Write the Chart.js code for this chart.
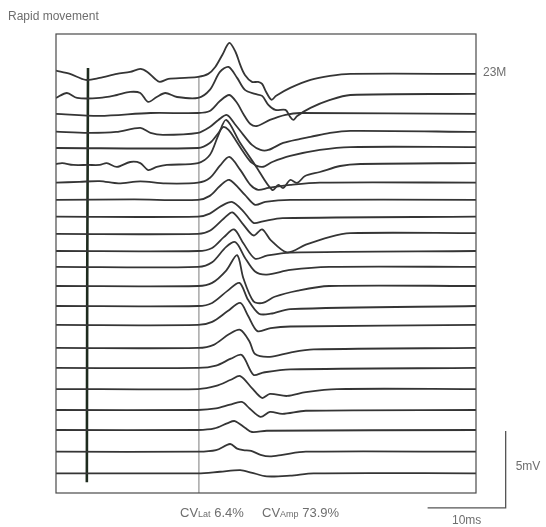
<!DOCTYPE html>
<html>
<head>
<meta charset="utf-8">
<script src="https://cdn.jsdelivr.net/npm/chart.js@4/dist/chart.umd.min.js"></script>
<style>
  html, body { margin: 0; padding: 0; background: #fff; }
  canvas { display: block; }
</style>
</head>
<body>
<canvas id="sweeps" width="546" height="527"></canvas>
<script>
// time axis in ms, amplitude in mV
const timeRange = [0, 53.8];
const mvRange = [0, 29.8];

// stacking level of each sweep (mV)
const offsets = [27.42, 25.65, 24.61, 23.46, 22.40, 21.36, 20.15, 19.03, 17.94, 16.82, 15.71,
                 14.68, 13.44, 12.14, 10.91, 9.42, 8.12, 6.75, 5.39, 4.09, 2.68, 1.28];

// each sweep: [ms, mV relative to its level]
const sweep1 = [[0,0],[1.8,-0.21],[3.8,-0.6],[5.6,-0.47],[7.8,-0.21],[9.5,-0.08],[10.8,0.11],[11.7,-0.08],[12.7,-0.54],[13.3,-0.73],[14.4,-0.54],[16.5,-0.47],[18.2,-0.41],[19.5,-0.21],[20.4,0.24],[21.3,1.02],[22.2,1.8],[23.0,1.21],[23.6,0.37],[24.2,-0.28],[25.1,-0.73],[25.9,-0.73],[26.4,-0.86],[26.9,-1.37],[27.6,-1.89],[28.2,-1.63],[30.0,-1.12],[32.6,-0.6],[35.1,-0.34],[37.7,-0.21],[53.8,-0.21]];
const sweep2 = [[0,0],[1.4,0.32],[2.7,0],[5.6,0],[7.8,0.19],[9.5,0.39],[10.8,0.32],[11.8,-0.26],[12.9,0.06],[14.0,0.32],[15.5,0.06],[18.2,0],[19.7,0.52],[21.0,1.69],[22.1,2.01],[23.2,1.3],[24.2,0.52],[25.5,0.26],[26.4,0.13],[27.2,-0.45],[28.1,-0.78],[29.4,-0.78],[30.0,-1.23],[30.4,-1.43],[30.9,-1.17],[32.6,-0.65],[35.1,-0.13],[37.7,0.19],[53.8,0.26]];
const sweep3 = [[0,0],[5.6,-0.13],[12.1,0.06],[18.2,0.06],[19.7,0.19],[21.0,0.84],[22.2,1.23],[23.2,0.71],[24.0,0],[24.9,-0.65],[25.8,-0.78],[27.4,-0.39],[29.4,-0.06],[31.3,0.06],[53.8,0]];
const sweep4 = [[0,0],[4.1,-0.08],[7.7,-0.02],[10.8,0.24],[12.1,-0.08],[13.7,-0.21],[18.2,-0.08],[19.7,0.3],[20.8,0.76],[21.9,1.08],[22.9,0.5],[24.0,-0.21],[25.1,-0.86],[26.2,-1.19],[27.2,-1.19],[29.1,-0.73],[31.3,-0.47],[32.6,-0.34],[35.1,-0.08],[37.7,0.05],[53.8,-0.02]];
const sweep5 = [[0,0],[18.2,0],[19.7,0.32],[20.8,0.97],[21.4,1.36],[22.1,1.17],[23.0,0.52],[24.0,-0.26],[25.1,-0.97],[26.4,-1.23],[27.7,-0.91],[30.0,-0.52],[33.8,-0.13],[37.7,0.06],[53.8,0.06]];
const sweep6 = [[0,0],[0.8,0.06],[2.2,-0.06],[4.1,-0.06],[5.6,-0.06],[6.5,0.06],[7.8,-0.19],[9.5,0.13],[10.8,0.06],[11.8,-0.39],[12.9,-0.19],[14.2,-0.06],[18.2,0.06],[19.7,0.58],[20.8,1.88],[21.8,2.86],[23.6,1.36],[25.5,-0.06],[27.7,-1.69],[28.5,-1.36],[29.1,-1.56],[30.0,-1.04],[30.9,-1.23],[31.9,-0.78],[33.8,-0.52],[36.4,-0.13],[39.0,0],[53.8,0.06]];
const sweep7 = [[0,0],[3,0.05],[5.6,0.1],[8,-0.05],[10.8,0.08],[14,-0.05],[18.2,0],[19.7,0.3],[21.0,1.1],[22.2,1.67],[23.6,0.83],[24.9,-0.15],[25.9,-0.47],[27.2,-0.34],[30.0,-0.15],[33.8,0],[53.8,0]];
const sweep8 = [[0,0],[10,0.03],[18.2,0],[19.7,0.26],[21.0,0.9],[22.2,1.3],[24.2,0.32],[25.5,-0.32],[26.8,-0.13],[30.0,0],[53.8,0]];
const sweep9 = [[0,0],[18.2,0],[19.7,0.2],[21.2,0.7],[22.6,0.95],[24.0,0.35],[25.3,-0.4],[26.5,-0.3],[29,-0.1],[53.8,0]];
const sweep10 = [[0,0],[18.2,0],[19.7,0.2],[21.5,1.0],[22.6,1.4],[24.0,0.6],[25.3,-0.1],[26.4,0.3],[27.5,-0.4],[29.6,-1.2],[32,-0.7],[35,-0.2],[37.7,0.05],[53.8,0.05]];
const sweep11 = [[0,0],[18.2,0],[20,0.2],[21.5,0.9],[22.8,1.4],[24.0,0.5],[25.5,-0.5],[27,-0.3],[30,-0.1],[53.8,0]];
const sweep12 = [[0,0],[18.2,0],[20,0.3],[21.8,1.3],[23.0,1.6],[24.2,0.6],[25.5,-0.3],[27,-0.5],[30,-0.2],[35,0],[53.8,0]];
const sweep13 = [[0,0],[18.2,0],[20,0.2],[21.8,1.0],[23.2,2.0],[24.0,0.5],[25.3,-1.0],[26.5,-1.1],[28,-0.7],[31,-0.3],[35,0],[53.8,0]];
const sweep14 = [[0,0],[18.2,0],[20,0.2],[22,1.0],[23.5,1.5],[24.6,0.4],[26,-0.5],[27.5,-0.5],[30,-0.2],[53.8,0]];
const sweep15 = [[0,0],[18.2,0],[20,0.2],[22,0.9],[23.6,1.43],[24.6,0.6],[25.8,-0.4],[27.5,-0.2],[30,-0.1],[53.8,0]];
const sweep16 = [[0,0],[18.2,0],[20.2,0.2],[22.2,0.9],[23.6,1.17],[24.8,0.4],[25.5,-0.4],[27.4,-0.58],[30,-0.3],[33,-0.1],[53.8,0]];
const sweep17 = [[0,0],[18.2,0],[20.5,0.15],[22.4,0.6],[23.8,0.84],[25.3,-0.45],[26.5,-0.3],[30,-0.1],[53.8,0]];
const sweep18 = [[0,0],[18.2,0],[20.5,0.2],[22.4,0.6],[23.6,0.84],[25.1,0.06],[26.4,-0.58],[27.4,-0.32],[29.6,-0.45],[32,-0.2],[36,0],[53.8,0]];
const sweep19 = [[0,0],[18.2,0],[20.5,0.1],[22.3,0.35],[23.8,0.52],[24.8,0.1],[26.2,-0.45],[27.4,-0.13],[29,-0.25],[32,-0.05],[53.8,0]];
const sweep20 = [[0,0],[18.2,0],[20.3,0.1],[22.0,0.45],[22.9,0.58],[24.2,0.15],[25.1,-0.13],[27,-0.05],[53.8,0]];
const sweep21 = [[0,0],[18.2,0],[20.5,0.1],[22.3,0.5],[23.2,0.2],[24,0.1],[25,0.05],[26.2,-0.2],[27.4,-0.3],[29,-0.2],[32,0],[53.8,0]];
const sweep22 = [[0,0],[18.2,0],[21,0.1],[23.6,0.2],[25,0.05],[27,-0.2],[30,-0.15],[33,0],[53.8,0]];

const sweeps = [sweep1, sweep2, sweep3, sweep4, sweep5, sweep6, sweep7, sweep8, sweep9, sweep10, sweep11,
                sweep12, sweep13, sweep14, sweep15, sweep16, sweep17, sweep18, sweep19, sweep20, sweep21, sweep22];

// stimulus marker and latency reference (ms, mV)
const stimMarker = [[4.1, 27.6], [4.0, 14.0], [3.95, 0.7]];
const latencyRef = [[18.3, 27.0], [18.3, 0]];

// calibration bars
const barMs = 10;
const barMv = 5;
const barCorner = [57.6, -0.97];

const labelTitle = 'Rapid movement';
const labelSubject = '23M';
const cvLat = '6.4%';
const cvAmp = '73.9%';

const toPts = arr => arr.map(p => ({ x: p[0], y: p[1] }));

const datasets = sweeps.map((s, i) => ({
    data: s.map(p => ({ x: p[0], y: offsets[i] + p[1] })),
    borderColor: '#353535',
    borderWidth: 1.8,
    tension: 0.3
}));

datasets.push({
    data: toPts(latencyRef),
    borderColor: '#a8a8a8',
    borderWidth: 0.8,
    tension: 0
});
datasets.push({
    data: toPts(stimMarker),
    borderColor: '#1e2b1e',
    borderWidth: 2.6,
    tension: 0
});

const FONT = '"Liberation Sans", Arial, sans-serif';

const frameAndText = {
    id: 'frameAndText',
    afterDraw(chart) {
        const { ctx, chartArea: a, scales: { x, y } } = chart;
        ctx.save();
        ctx.strokeStyle = '#4a4a4a';
        ctx.lineWidth = 1.2;
        ctx.strokeRect(a.left, a.top, a.right - a.left, a.bottom - a.top);

        // calibration bars, placed through the scales
        const cx = x.getPixelForValue(barCorner[0]);
        const cy = y.getPixelForValue(barCorner[1]);
        const left = x.getPixelForValue(barCorner[0] - barMs);
        const top = y.getPixelForValue(barCorner[1] + barMv);
        ctx.strokeStyle = '#555';
        ctx.lineWidth = 1.3;
        ctx.beginPath();
        ctx.moveTo(left, cy);
        ctx.lineTo(cx, cy);
        ctx.lineTo(cx, top);
        ctx.stroke();

        ctx.fillStyle = '#6e6e6e';
        ctx.textBaseline = 'middle';
        ctx.font = '12px ' + FONT;
        ctx.fillText(labelTitle, 8, 17);

        ctx.font = '12px ' + FONT;
        ctx.fillText(labelSubject, a.right + 7, y.getPixelForValue(offsets[0]) + 2);

        ctx.fillText('5mV', cx + 10, (cy + top) / 2 - 3);
        ctx.textAlign = 'center';
        ctx.fillText('10ms', (left + cx) / 2, cy + 13);

        // CV labels with small subscripts
        ctx.textAlign = 'left';
        let px = 180;
        const py = 513;
        const part = (t, size, dy) => { ctx.font = size + 'px ' + FONT; ctx.fillText(t, px, py + dy); px += ctx.measureText(t).width; };
        part('CV', 13, 0);
        part('Lat', 9, 2);
        part(' ' + cvLat, 13, 0);
        px = 262;
        part('CV', 13, 0);
        part('Amp', 9, 2);
        part(' ' + cvAmp, 13, 0);
        ctx.restore();
    }
};

new Chart(document.getElementById('sweeps'), {
    type: 'scatter',
    data: { datasets },
    options: {
        responsive: false,
        animation: false,
        showLine: true,
        layout: { padding: { left: 56, right: 70, top: 34, bottom: 34 } },
        elements: { point: { radius: 0, hoverRadius: 0 } },
        plugins: { legend: { display: false }, tooltip: { enabled: false } },
        scales: {
            x: { type: 'linear', min: timeRange[0], max: timeRange[1], display: false },
            y: { type: 'linear', min: mvRange[0], max: mvRange[1], display: false }
        }
    },
    plugins: [frameAndText]
});
</script>
</body>
</html>
